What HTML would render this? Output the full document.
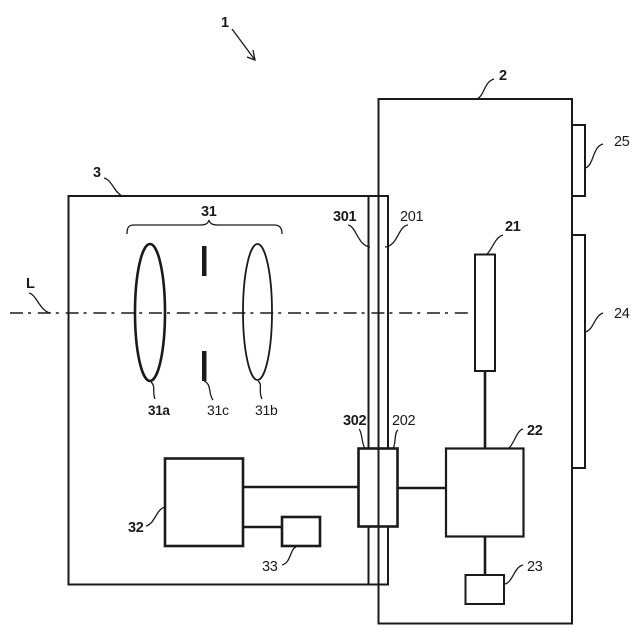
<!DOCTYPE html>
<html>
<head>
<meta charset="utf-8">
<style>
html,body{margin:0;padding:0;background:#fff;width:640px;height:640px;overflow:hidden}
svg{display:block}
text{font-family:"Liberation Sans",sans-serif;font-size:14.5px;fill:#1a1a1a;letter-spacing:-.3px}
.b{font-weight:bold}
.r{fill:none;stroke:#1a1a1a;stroke-width:2}
.t{fill:none;stroke:#1a1a1a;stroke-width:2.6}
.l{fill:none;stroke:#1a1a1a;stroke-width:1.3}
</style>
</head>
<body>
<svg width="640" height="640" viewBox="0 0 640 640" xmlns="http://www.w3.org/2000/svg">
<!-- housings -->
<rect class="r" x="68.5" y="196" width="319.5" height="388.5"/>
<rect class="r" x="378.5" y="99" width="193.5" height="524.5"/>
<line class="r" x1="368.5" y1="196" x2="368.5" y2="584.5"/>
<!-- side parts -->
<path class="r" d="M572 125H585V196H572"/>
<path class="r" d="M572 235H585V468H572"/>
<!-- axis -->
<line x1="10" y1="313" x2="472" y2="313" stroke="#1a1a1a" stroke-width="1.6" stroke-dasharray="13 5 3 6.8"/>
<!-- lenses -->
<ellipse class="t" cx="150" cy="312.5" rx="15" ry="68.5"/>
<ellipse cx="257.5" cy="312" rx="14.5" ry="68" fill="none" stroke="#1a1a1a" stroke-width="1.8"/>
<rect x="202" y="246" width="4.5" height="30" fill="#1a1a1a"/>
<rect x="202" y="351" width="4.5" height="30" fill="#1a1a1a"/>
<!-- brace -->
<path class="l" d="M127 234C127 227 129 225 134 225H200C205 225 208 224 209 220C210 224 213 225 218 225H274C279 225 282 227 282 234"/>
<!-- connectors -->
<line class="t" x1="485" y1="371" x2="485" y2="448"/>
<line class="t" x1="398" y1="488" x2="446" y2="488"/>
<line class="t" x1="485" y1="537" x2="485" y2="575"/>
<line class="t" x1="243" y1="487" x2="358" y2="487"/>
<line class="t" x1="243" y1="527" x2="282" y2="527"/>
<!-- blocks -->
<rect x="475" y="254.5" width="20" height="116.5" fill="#fff" stroke="#1a1a1a" stroke-width="2"/>
<rect x="446" y="448.5" width="77.5" height="88" fill="#fff" stroke="#1a1a1a" stroke-width="2.2"/>
<rect x="465.5" y="575" width="38.5" height="29" fill="#fff" stroke="#1a1a1a" stroke-width="2"/>
<rect x="358.5" y="448.5" width="39" height="78" fill="#fff" stroke="#1a1a1a" stroke-width="2.6"/>
<line class="r" x1="378.5" y1="448" x2="378.5" y2="527"/>
<rect class="t" x="165" y="458.5" width="78" height="87.5"/>
<rect class="t" x="282" y="517" width="38" height="29"/>
<!-- leaders -->
<path class="l" d="M232 29L255 60"/>
<path class="l" d="M247 57L255 60L253 50"/>
<path class="l" d="M478 98C484 96 484 82 494 79"/>
<path class="l" d="M104 178C112 180 114 192 122 196"/>
<path class="l" d="M29 293C37 295 39 310 50 313"/>
<path class="l" d="M585 168C594 166 592 147 603 144"/>
<path class="l" d="M585 332C594 330 594 316 603 313"/>
<path class="l" d="M348 225C356 226 358 246 370 247"/>
<path class="l" d="M408 225C398 226 398 246 385 247"/>
<path class="l" d="M503 235C495 237 492 250 487 254"/>
<path class="l" d="M359 429C362 431 362 446 365 448"/>
<path class="l" d="M398 430C394 432 396 446 393 448"/>
<path class="l" d="M523 429C517 430 514 444 509 448"/>
<path class="l" d="M523 565C514 567 513 582 505 584"/>
<path class="l" d="M146 526C155 524 156 509 165 507"/>
<path class="l" d="M282 565C291 563 290 549 296 547"/>
<path class="l" d="M151 382C156 386 152 392 155 399"/>
<path class="l" d="M204 381C212 384 208 394 213 400"/>
<path class="l" d="M258 381C263 384 258 392 262 399"/>
<!-- labels -->
<text x="221" y="27" class="b">1</text>
<text x="499" y="80" class="b">2</text>
<text x="93" y="177" class="b">3</text>
<text x="201" y="216" class="b">31</text>
<text x="26" y="288" class="b">L</text>
<text x="333" y="221" class="b">301</text>
<text x="400" y="221">201</text>
<text x="505" y="231" class="b">21</text>
<text x="614" y="146">25</text>
<text x="614" y="318">24</text>
<text x="148" y="415" class="b" style="font-size:13.5px">31a</text>
<text x="207" y="415" style="font-size:14px">31c</text>
<text x="255" y="415" style="font-size:14px">31b</text>
<text x="343" y="425" class="b">302</text>
<text x="392" y="425">202</text>
<text x="527" y="435" class="b">22</text>
<text x="527" y="571">23</text>
<text x="128" y="532" class="b">32</text>
<text x="262" y="571">33</text>
</svg>
</body>
</html>
